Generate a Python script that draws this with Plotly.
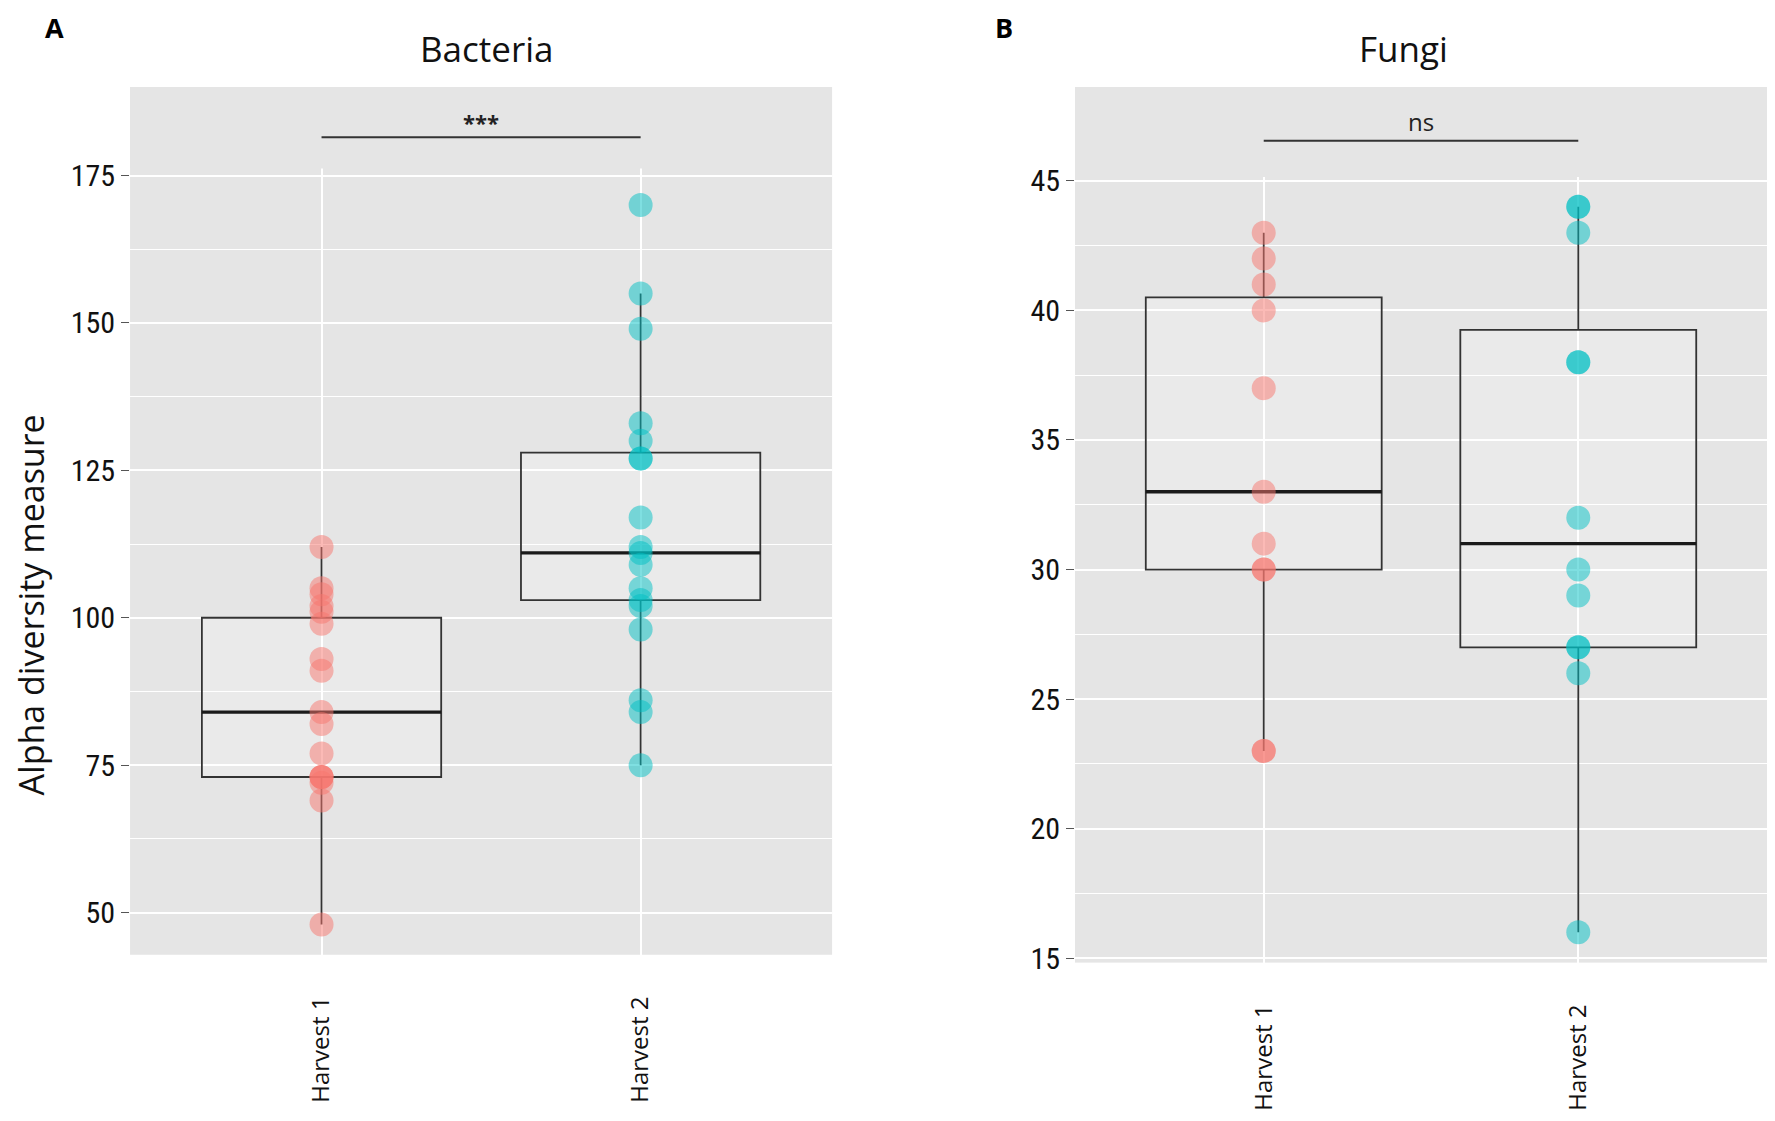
import plotly.graph_objects as go

# =========================
# Data
# =========================
GROUPS = ["Harvest 1", "Harvest 2"]
GROUP_POS = [1, 2]

# Bacteria alpha diversity, one value per sample
bact_h1 = [48, 69, 72, 73, 73, 73, 77, 82, 84, 91, 93, 99, 101, 102, 104, 105, 112]
bact_h2 = [75, 84, 86, 98, 102, 103, 105, 109, 111, 112, 117, 127, 127, 130, 133, 149, 155, 170]

# Fungi alpha diversity
fung_h1 = [23, 23, 30, 30, 31, 33, 37, 40, 41, 42, 43]
fung_h2 = [16, 26, 27, 27, 29, 30, 32, 38, 38, 43, 44, 44]

# box statistics as drawn (lower whisker, q1, median, q3, upper whisker)
bact_lo = [48, 75]
bact_q1 = [73, 103]
bact_med = [84, 111]
bact_q3 = [100, 128]
bact_hi = [112, 155]

fung_lo = [23, 16]
fung_q1 = [30, 27]
fung_med = [33, 31]
fung_q3 = [40.5, 39.25]
fung_hi = [43, 44]

# significance brackets
bact_sig = ("***", 181.5)
fung_sig = ("ns", 46.55)

bact_yticks = [50, 75, 100, 125, 150, 175]
bact_yminor = [62.5, 87.5, 112.5, 137.5, 162.5]
fung_yticks = [15, 20, 25, 30, 35, 40, 45]
fung_yminor = [17.5, 22.5, 27.5, 32.5, 37.5, 42.5]

# =========================
# Style
# =========================
COLORS = ["#F8766D", "#00BFC4"]
PANEL_BG = "#e5e5e5"
BOX_W = 0.75
X_RANGE = [0.4, 2.6]
BACT_RANGE = [42.85, 190.0]
FUNG_RANGE = [14.83, 48.62]
NARROW = "Liberation Sans Narrow, Roboto Condensed, Open Sans, sans-serif"
SANS = "Open Sans, Noto Sans, sans-serif"

# figure sized so it fits the window together with the page's 8px body margin
FIG_W, FIG_H = 1759, 1105

fig = go.Figure()


def add_strip(fig, xref, yref, y0, y1):
    # plain band above the top gridline (the original has no grid there)
    fig.add_trace(go.Scatter(
        x=[X_RANGE[0], X_RANGE[1], X_RANGE[1], X_RANGE[0], X_RANGE[0]],
        y=[y0, y0, y1, y1, y0], mode="lines", fill="toself",
        fillcolor=PANEL_BG, line=dict(width=0, color=PANEL_BG),
        xaxis=xref, yaxis=yref, showlegend=False, hoverinfo="skip",
    ))


def add_panel(fig, xref, yref, groups_vals, lo, q1, med, q3, hi):
    for i, pos in enumerate(GROUP_POS):
        fig.add_trace(go.Box(
            x=[pos], q1=[q1[i]], median=[med[i]], q3=[q3[i]],
            lowerfence=[lo[i]], upperfence=[hi[i]],
            width=BOX_W, whiskerwidth=0, boxpoints=False,
            line=dict(color="#333333", width=1.8),
            fillcolor="rgba(255,255,255,0.22)",
            xaxis=xref, yaxis=yref, showlegend=False, hoverinfo="skip",
        ))
        # thicker median line (ggplot fatten)
        fig.add_trace(go.Scatter(
            x=[pos - BOX_W / 2, pos + BOX_W / 2], y=[med[i], med[i]],
            mode="lines", line=dict(color="#1a1a1a", width=3.4),
            xaxis=xref, yaxis=yref, showlegend=False, hoverinfo="skip",
        ))
    for i, vals in enumerate(groups_vals):
        fig.add_trace(go.Scatter(
            x=[GROUP_POS[i]] * len(vals), y=vals, mode="markers",
            marker=dict(size=24, color=COLORS[i], opacity=0.5, line=dict(width=0)),
            xaxis=xref, yaxis=yref, showlegend=False, name=GROUPS[i],
        ))


add_strip(fig, "x", "y", 176.2, BACT_RANGE[1])
add_strip(fig, "x2", "y2", 45.15, FUNG_RANGE[1])
add_panel(fig, "x", "y", [bact_h1, bact_h2], bact_lo, bact_q1, bact_med, bact_q3, bact_hi)
add_panel(fig, "x2", "y2", [fung_h1, fung_h2], fung_lo, fung_q1, fung_med, fung_q3, fung_hi)

# significance bars
for xref, yref, sig in [("x", "y", bact_sig), ("x2", "y2", fung_sig)]:
    fig.add_trace(go.Scatter(
        x=GROUP_POS, y=[sig[1], sig[1]], mode="lines",
        line=dict(color="#333333", width=2),
        xaxis=xref, yaxis=yref, showlegend=False, hoverinfo="skip",
    ))

xcommon = dict(
    range=X_RANGE, tickvals=GROUP_POS, ticktext=GROUPS, tickangle=-90,
    showgrid=True, gridcolor="white", gridwidth=1.8, zeroline=False,
    ticks="", ticklabelstandoff=36,
    tickfont=dict(family=SANS, size=24, color="#111111"),
    showline=False,
)
ycommon = dict(
    showgrid=True, gridcolor="white", gridwidth=1.8, zeroline=False,
    ticks="outside", ticklen=8, tickwidth=1.2, tickcolor="#555555",
    tickfont=dict(family=NARROW, size=30, color="#111111"),
    showline=False,
)

fig.update_layout(
    width=FIG_W, height=FIG_H,
    paper_bgcolor="white", plot_bgcolor=PANEL_BG,
    margin=dict(l=0, r=0, t=0, b=0),
    showlegend=False,
    xaxis=dict(domain=[0.0694, 0.4685], anchor="y", **xcommon),
    yaxis=dict(domain=[0.1330, 0.9276], anchor="x", range=BACT_RANGE,
               tickvals=bact_yticks,
               minor=dict(tickvals=bact_yminor, showgrid=True, gridcolor="white", gridwidth=0.8),
               **ycommon),
    xaxis2=dict(domain=[0.6066, 1.0], anchor="y2", **xcommon),
    yaxis2=dict(domain=[0.1258, 0.9276], anchor="x2", range=FUNG_RANGE,
                tickvals=fung_yticks,
                minor=dict(tickvals=fung_yminor, showgrid=True, gridcolor="white", gridwidth=0.8),
                **ycommon),
)

annotations = [
    dict(text="Bacteria", x=0.2723, y=0.9629, xref="paper", yref="paper",
         xanchor="center", yanchor="middle",
         showarrow=False, font=dict(family=SANS, size=35, color="#111111")),
    dict(text="Fungi", x=0.7936, y=0.9629, xref="paper", yref="paper",
         xanchor="center", yanchor="middle",
         showarrow=False, font=dict(family=SANS, size=35, color="#111111")),
    dict(text="<b>A</b>", x=0.0262, y=0.9819, xref="paper", yref="paper",
         xanchor="center", yanchor="middle",
         showarrow=False, font=dict(family=SANS, size=27, color="black")),
    dict(text="<b>B</b>", x=0.5662, y=0.9819, xref="paper", yref="paper",
         xanchor="center", yanchor="middle",
         showarrow=False, font=dict(family=SANS, size=27, color="black")),
    dict(text="Alpha diversity measure", x=0.0128, y=0.4534, xref="paper", yref="paper",
         xanchor="center", yanchor="middle",
         textangle=-90, showarrow=False, font=dict(family=SANS, size=34, color="#111111")),
    dict(text="<b>***</b>", x=1.5, y=bact_sig[1], xref="x", yref="y", yanchor="bottom",
         yshift=-2, showarrow=False, font=dict(family=SANS, size=22, color="#222222")),
    dict(text=fung_sig[0], x=1.5, y=fung_sig[1], xref="x2", yref="y2", yanchor="bottom",
         yshift=1, showarrow=False, font=dict(family=SANS, size=24, color="#222222")),
]
fig.update_layout(annotations=annotations)

fig.write_html("out.html")
